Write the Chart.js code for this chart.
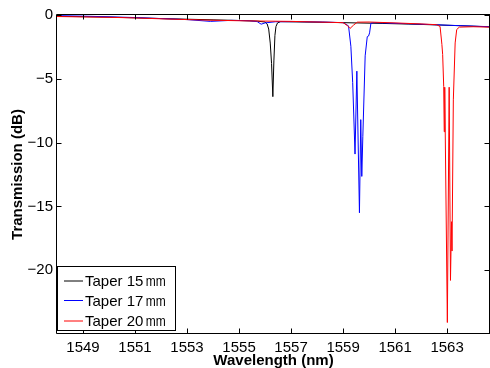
<!DOCTYPE html>
<html><head><meta charset="utf-8">
<script src="https://cdn.jsdelivr.net/npm/chart.js@4"></script>
<style>html,body{margin:0;padding:0;background:#fff;overflow:hidden}canvas{display:block}</style>
</head><body>
<canvas id="c" width="490" height="368"></canvas>
<script>
// Taper 15 mm
const wl15 = [1548.0, 1549.0, 1550.0, 1551.0, 1552.0, 1553.0, 1554.0, 1555.0, 1555.7, 1556.0, 1556.08, 1556.14, 1556.2, 1556.25, 1556.3, 1556.34, 1556.38, 1556.42, 1556.48, 1556.6, 1557.5, 1558.5, 1559.5, 1560.5, 1561.5, 1562.5, 1563.5, 1564.65];
const t15 = [-0.1, -0.13, -0.17, -0.22, -0.28, -0.33, -0.38, -0.43, -0.48, -0.55, -0.7, -1.1, -2.2, -3.8, -6.4, -3.6, -1.6, -0.9, -0.62, -0.52, -0.55, -0.58, -0.62, -0.66, -0.71, -0.77, -0.84, -0.93];
// Taper 17 mm
const wl17 = [1548.0, 1549.0, 1550.0, 1551.0, 1552.0, 1553.0, 1553.9, 1554.7, 1555.4, 1555.7, 1555.85, 1556.0, 1556.4, 1557.2, 1558.2, 1559.0, 1559.21, 1559.3, 1559.37, 1559.46, 1559.53, 1559.63, 1559.68, 1559.72, 1559.76, 1559.85, 1559.93, 1559.98, 1560.02, 1560.07, 1560.2, 1561.0, 1562.0, 1563.0, 1564.0, 1564.65];
const t17 = [-0.05, -0.09, -0.14, -0.2, -0.28, -0.36, -0.5, -0.42, -0.45, -0.52, -0.72, -0.62, -0.53, -0.52, -0.55, -0.6, -0.85, -2.45, -5.3, -10.9, -4.4, -15.5, -8.2, -12.65, -9.5, -3.2, -1.7, -1.65, -1.4, -0.65, -0.6, -0.65, -0.72, -0.8, -0.87, -0.92];
// Taper 20 mm
const wl20 = [1548.0, 1549.0, 1550.0, 1551.0, 1552.0, 1553.0, 1554.0, 1555.0, 1556.0, 1557.0, 1558.0, 1559.0, 1559.15, 1559.27, 1559.4, 1559.55, 1560.0, 1561.0, 1562.0, 1562.6, 1562.73, 1562.8, 1562.83, 1562.87, 1562.89, 1562.91, 1563.01, 1563.08, 1563.13, 1563.17, 1563.19, 1563.24, 1563.31, 1563.37, 1563.47, 1564.0, 1564.65];
const t20 = [-0.12, -0.15, -0.18, -0.23, -0.3, -0.36, -0.41, -0.45, -0.48, -0.5, -0.55, -0.6, -0.8, -1.05, -0.8, -0.56, -0.55, -0.62, -0.7, -0.76, -0.9, -2.3, -3.1, -5.6, -9.15, -5.66, -24.1, -5.66, -20.8, -16.2, -18.5, -6.65, -2.19, -1.14, -0.95, -0.92, -0.95];

const seriesNames = ['Taper 15', 'Taper 17', 'Taper 20'];
const seriesUnit = 'mm';
const seriesColors = ['#000000', '#0000ff', '#ff0000'];
const xTicks = [1549, 1551, 1553, 1555, 1557, 1559, 1561, 1563];
const xTickLabels = ['1549', '1551', '1553', '1555', '1557', '1559', '1561', '1563'];
const yTicks = [0, -5, -10, -15, -20];
const yTickLabels = ['0', '\u22125', '\u221210', '\u221215', '\u221220'];
const xTitle = 'Wavelength (nm)';
const yTitle = 'Transmission (dB)';

const FONT = "'Liberation Sans', Arial, Helvetica, sans-serif";
const zip = (xs, ys) => xs.map((x, i) => ({x: x, y: ys[i]}));

const framePlugin = {
  id: 'frame',
  afterDraw(chart) {
    const ctx = chart.ctx, ca = chart.chartArea;
    const xs = chart.scales.x, ys = chart.scales.y;
    ctx.save();
    ctx.strokeStyle = '#000';
    ctx.lineWidth = 1;
    const L = Math.round(ca.left) - 0.5, R = Math.round(ca.right) - 0.5;
    const T = Math.round(ca.top) - 0.5, B = Math.round(ca.bottom) - 0.5;
    ctx.beginPath();
    ctx.moveTo(L, T); ctx.lineTo(R + 1, T);
    ctx.moveTo(L, B); ctx.lineTo(R + 1, B);
    ctx.moveTo(L, T); ctx.lineTo(L, B);
    ctx.moveTo(R, T); ctx.lineTo(R, B);
    const tl = 5;
    xTicks.forEach(v => {
      const p = Math.round(xs.getPixelForValue(v)) + 0.5;
      ctx.moveTo(p, B); ctx.lineTo(p, B - tl);
      ctx.moveTo(p, T); ctx.lineTo(p, T + tl);
    });
    yTicks.forEach(v => {
      const p = Math.round(ys.getPixelForValue(v)) + 0.5;
      ctx.moveTo(L, p); ctx.lineTo(L + tl, p);
      ctx.moveTo(R, p); ctx.lineTo(R - tl, p);
    });
    ctx.stroke();

    // legend
    const bx = 57.5, by = 266.5, bw = 118, bh = 64;
    ctx.fillStyle = '#fff';
    ctx.fillRect(bx, by, bw, bh);
    ctx.strokeRect(bx, by, bw, bh);
    const rows = [281, 300.5, 321];
    chart.data.datasets.forEach((ds, i) => {
      const yy = rows[i];
      ctx.strokeStyle = ds.borderColor;
      ctx.beginPath();
      ctx.moveTo(64, yy); ctx.lineTo(83, yy);
      ctx.stroke();
      ctx.fillStyle = '#000';
      ctx.textBaseline = 'middle';
      ctx.textAlign = 'left';
      ctx.font = '15px ' + FONT;
      ctx.fillText(seriesNames[i], 85, yy + 1);
      const w = ctx.measureText(seriesNames[i]).width;
      ctx.save();
      ctx.translate(85 + w + 2.5, yy + 1);
      ctx.scale(0.8, 1);
      ctx.font = '15px ' + FONT;
      ctx.fillText(seriesUnit, 0, 0);
      ctx.restore();
    });
    ctx.restore();
  }
};

new Chart(document.getElementById('c'), {
  type: 'line',
  data: {
    datasets: [
      {label: seriesNames[0] + ' ' + seriesUnit, data: zip(wl15, t15), borderColor: seriesColors[0], order: 3},
      {label: seriesNames[1] + ' ' + seriesUnit, data: zip(wl17, t17), borderColor: seriesColors[1], order: 2},
      {label: seriesNames[2] + ' ' + seriesUnit, data: zip(wl20, t20), borderColor: seriesColors[2], order: 1}
    ]
  },
  options: {
    responsive: false,
    animation: false,
    devicePixelRatio: 1,
    layout: {padding: {top: 15, right: 0, left: 0, bottom: 0}},
    elements: {
      line: {borderWidth: 1, tension: 0, fill: false},
      point: {radius: 0, hoverRadius: 0}
    },
    plugins: {legend: {display: false}, tooltip: {enabled: false}},
    events: [],
    scales: {
      x: {
        type: 'linear', position: 'bottom',
        min: 1548, max: 1564.65,
        afterFit: s => { s.height = 34; },
        afterBuildTicks: s => { s.ticks = xTicks.map(v => ({value: v})); },
        grid: {display: false, drawTicks: false},
        border: {display: false},
        ticks: {
          font: {family: FONT, size: 15}, color: '#000', padding: 5,
          maxRotation: 0, autoSkip: false,
          callback: v => xTickLabels[xTicks.indexOf(v)]
        },
        title: {display: true, text: xTitle, color: '#000',
          font: {family: FONT, size: 15, weight: 'bold'}, padding: {top: 0, bottom: -2}}
      },
      y: {
        type: 'linear', position: 'left',
        min: -25, max: 0,
        afterFit: s => { s.width = 57; },
        afterBuildTicks: s => { s.ticks = yTicks.map(v => ({value: v})); },
        grid: {display: false, drawTicks: false},
        border: {display: false},
        ticks: {
          font: {family: FONT, size: 15}, color: '#000', padding: 4,
          autoSkip: false,
          callback: v => yTickLabels[yTicks.indexOf(v)]
        },
        title: {display: true, text: yTitle, color: '#000',
          font: {family: FONT, size: 15, weight: 'bold'}, padding: {top: 9, bottom: 0}}
      }
    }
  },
  plugins: [framePlugin]
});
</script>
</body></html>
